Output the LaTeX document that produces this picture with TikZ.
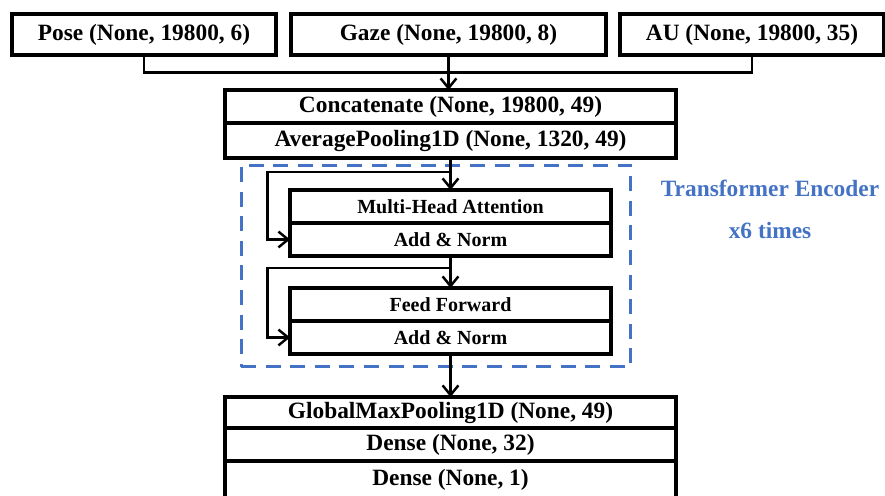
\documentclass[tikz,border=0pt]{standalone}
\usepackage{fontspec}
\setmainfont{Liberation Serif}
\usepackage{xcolor}
\usetikzlibrary{positioning, arrows.meta}
\definecolor{encblue}{RGB}{68,114,196}

\begin{document}
\begin{tikzpicture}[x=0.02cm, y=-0.02cm,
    layer/.style={draw, line width=1.9pt, rectangle, outer sep=0pt, inner sep=0pt, align=center, font=\fontsize{13.3}{15}\selectfont\bfseries},
    sublayer/.style={layer, minimum width=6.42cm, minimum height=0.66cm, font=\fontsize{11.4}{13}\selectfont\bfseries},
    arrow/.style={-{Straight Barb[length=5.5pt, width=9pt]}, line width=1.4pt},
    link/.style={line width=1.4pt},
    note/.style={text=encblue, font=\fontsize{13.3}{15}\selectfont\bfseries}
]
    \useasboundingbox (0,0) rectangle (885,496);

    % inputs
    \node (pose) [layer, minimum width=5.28cm, minimum height=0.82cm] at (144,34.5) {Pose (None, 19800, 6)};
    \node (gaze) [layer, minimum width=6.3cm, minimum height=0.82cm] at (448.5,34.5) {Gaze (None, 19800, 8)};
    \node (au) [layer, minimum width=5.28cm, minimum height=0.82cm] at (752,34.5) {AU (None, 19800, 35)};

    \node (concat) [layer, minimum width=9.02cm, minimum height=0.66cm] at (450.5,106.5) {Concatenate (None, 19800, 49)};
    \node (avgpool) [layer, minimum width=9.02cm, minimum height=0.7cm, below=0pt of concat] {AveragePooling1D (None, 1320, 49)};

    % encoder block
    \node (encoder) [draw=encblue, dashed, dash pattern=on 8.5pt off 5.5pt, line width=1.7pt, minimum width=7.8cm, minimum height=4.04cm] at (436,266) {};
    \node (mha) [sublayer] at (450.5,206.5) {Multi-Head Attention};
    \node (addnorm1) [sublayer, below=0pt of mha] {Add \& Norm};
    \node (ff) [sublayer] at (450.5,304.5) {Feed Forward};
    \node (addnorm2) [sublayer, below=0pt of ff] {Add \& Norm};

    \node (enclabel) [note] at (770,188) {Transformer Encoder};
    \node (reps) [note] at (770,231) {x6 times};

    % head
    \node (gmp) [layer, minimum width=9.02cm, minimum height=0.62cm] at (450.5,412.5) {GlobalMaxPooling1D (None, 49)};
    \node (dense1) [layer, minimum width=9.02cm, minimum height=0.66cm, below=0pt of gmp] {Dense (None, 32)};
    \node (dense2) [layer, minimum width=9.02cm, minimum height=0.76cm, below=0pt of dense1] {Dense (None, 1)};

    \coordinate (res1) at (450.5,172);
    \coordinate (res2) at (450.5,268);

    \draw [link] (pose.south) -- ++(0,17.5) -| (au.south);
    \draw [arrow] (gaze.south) -- (gaze.south |- concat.north);
    \draw [arrow] (avgpool.south) -- (mha.north);
    \draw [arrow] (res1) -- ++(-183,0) |- (addnorm1.west);
    \draw [arrow] (addnorm1.south) -- (ff.north);
    \draw [arrow] (res2) -- ++(-183,0) |- (addnorm2.west);
    \draw [arrow] (addnorm2.south) -- (gmp.north);
\end{tikzpicture}
\end{document}
